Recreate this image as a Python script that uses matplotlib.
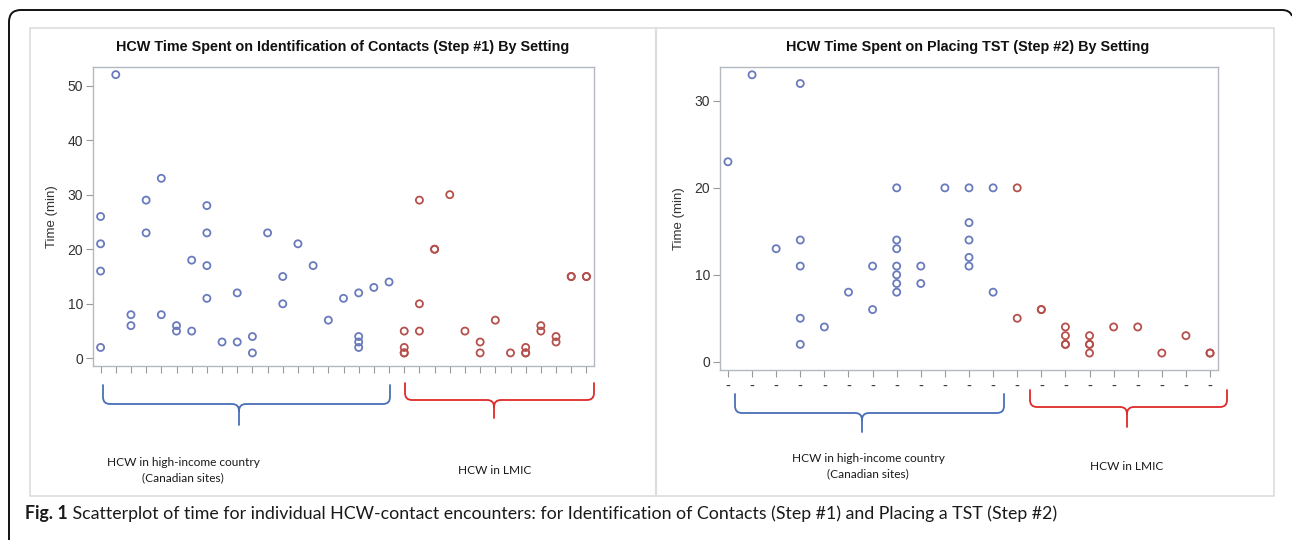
import numpy as np
import matplotlib
matplotlib.use("Agg")
import matplotlib.pyplot as plt
from matplotlib.path import Path
from matplotlib.patches import PathPatch, Rectangle

W, H = 1292, 540

# --- datos: tiempo (min) por categoría ---
# Paso 1: identificación de contactos (20 categorías Canadá + 13 LMIC)
step1_hic = [[26, 21, 16, 2], [52], [8, 6], [29, 23], [33, 8], [6, 5], [18, 5],
             [28, 23, 17, 11], [3], [12, 3], [4, 1], [23], [15, 10], [21], [17],
             [7], [11], [12, 4, 3, 2], [13], [14]]
step1_lmic = [[5, 2, 1, 1], [29, 10, 5], [20, 20], [30], [5], [3, 1], [7], [1],
              [2, 1, 1], [6, 5], [4, 3], [15, 15], [15, 15]]
# Paso 2: colocación de TST (12 categorías Canadá + 9 LMIC)
step2_hic = [[23], [33], [13], [32, 14, 11, 5, 2], [4], [8], [11, 6],
             [20, 14, 13, 11, 10, 9, 8], [11, 9], [20], [20, 16, 14, 12, 11], [20, 8]]
step2_lmic = [[20, 5], [6, 6], [4, 3, 2, 2], [3, 2, 2, 1], [4], [4], [1], [3], [1, 1]]

step1_yticks = [0, 10, 20, 30, 40, 50]
step2_yticks = [0, 10, 20, 30]

title1 = "HCW Time Spent on Identification of Contacts (Step #1) By Setting"
title2 = "HCW Time Spent on Placing TST (Step #2) By Setting"
label_hic = "HCW in high-income country\n(Canadian sites)"
label_lmic = "HCW in LMIC"
caption_bold = "Fig. 1"
caption_rest = (" Scatterplot of time for individual HCW-contact encounters: for "
                "Identification of Contacts (Step #1) and Placing a TST (Step #2)")

BLUE_PT = "#6a7bbd"
RED_PT = "#b5504c"
BLUE_BR = "#4a6fb8"
RED_BR = "#de2a2a"
FRAME = "#b4b8bf"

fig = plt.figure(figsize=(W / 100, H / 100), dpi=100)

# capa de fondo en coordenadas de píxel
ov = fig.add_axes([0, 0, 1, 1])
ov.set_xlim(0, W)
ov.set_ylim(H, 0)
ov.axis("off")


def px_axes(x0, y0, x1, y1):
    return fig.add_axes([x0 / W, 1 - y1 / H, (x1 - x0) / W, (y1 - y0) / H])


def flatten(groups, start):
    xs, ys = [], []
    for i, g in enumerate(groups):
        xs += [start + i] * len(g)
        ys += g
    return np.array(xs), np.array(ys)


def scatter_panel(ax, hic, lmic, yticks, ylim, dash_labels):
    xb, yb = flatten(hic, 0)
    xr, yr = flatten(lmic, len(hic))
    n = len(hic) + len(lmic)
    ax.scatter(xb, yb, s=26, facecolors="none", edgecolors=BLUE_PT, linewidths=1.3, zorder=3)
    ax.scatter(xr, yr, s=26, facecolors="none", edgecolors=RED_PT, linewidths=1.3, zorder=3)
    if dash_labels:
        ax.set_xlim(-0.33, n - 0.67)
    else:
        ax.set_xlim(-0.5, n - 0.5)
    ax.set_ylim(*ylim)
    ax.set_xticks(range(n))
    if dash_labels:
        ax.set_xticklabels(["-"] * n, fontsize=3.5, color="#aaaaaa")
    else:
        ax.set_xticklabels([])
    ax.set_yticks(yticks)
    ax.tick_params(axis="both", direction="out", length=5, width=0.8, color="#9a9a9a",
                   labelsize=10, labelcolor="#333333", pad=2)
    for sp in ax.spines.values():
        sp.set_color(FRAME)
        sp.set_linewidth(1.0)
    ax.set_ylabel("Time (min)", fontsize=9.5, color="#333333", labelpad=7)
    for lab in ax.get_yticklabels():
        lab.set_fontfamily("Liberation Sans")
    ax.yaxis.label.set_fontfamily("Liberation Sans")


ax1 = px_axes(93, 67, 594, 366)
scatter_panel(ax1, step1_hic, step1_lmic, step1_yticks, (-1.4, 53.4), False)
ax2 = px_axes(720, 67, 1218, 370)
scatter_panel(ax2, step2_hic, step2_lmic, step2_yticks, (-0.95, 33.9), True)

# títulos
ov.text(343, 47, title1, ha="center", va="center", fontsize=10.4, fontweight="bold",
        family="Liberation Sans", color="#111111")
ov.text(968, 47, title2, ha="center", va="center", fontsize=10.4, fontweight="bold",
        family="Liberation Sans", color="#111111")

# marcos de los paneles
ov.add_patch(Rectangle((30, 28), 1244, 468, fill=False, edgecolor="#dddddd", linewidth=1.2))
ov.plot([656, 656], [28, 496], color="#dddddd", linewidth=1.6)

# borde exterior redondeado
border = Path([(9, H + 2), (9, 22), (9, 10), (21, 10), (1282, 10), (1290, 10), (1292, 16)],
              [Path.MOVETO, Path.LINETO, Path.CURVE3, Path.CURVE3, Path.LINETO,
               Path.CURVE3, Path.CURVE3])
ov.add_patch(PathPatch(border, fill=False, edgecolor="#111111", linewidth=1.4))


def brace(x0, x1, ytop, ymid, ytip, xm, color):
    r = 7
    verts = [(x0, ytop), (x0, ymid - r), (x0, ymid), (x0 + r, ymid),
             (xm - r, ymid), (xm, ymid), (xm, ymid + r), (xm, ytip),
             (x1, ytop), (x1, ymid - r), (x1, ymid), (x1 - r, ymid),
             (xm + r, ymid), (xm, ymid), (xm, ymid + r)]
    codes = [Path.MOVETO, Path.LINETO, Path.CURVE3, Path.CURVE3,
             Path.LINETO, Path.CURVE3, Path.CURVE3, Path.LINETO,
             Path.MOVETO, Path.LINETO, Path.CURVE3, Path.CURVE3,
             Path.LINETO, Path.CURVE3, Path.CURVE3]
    ov.add_patch(PathPatch(Path(verts, codes), fill=False, edgecolor=color,
                           linewidth=1.3, capstyle="round"))


brace(103, 390, 385, 404, 425, 239, BLUE_BR)
brace(405, 594, 383, 400, 418, 494, RED_BR)
brace(735, 1004, 394, 413, 432, 862, BLUE_BR)
brace(1030, 1227, 390, 407, 427, 1127, RED_BR)

lab_kw = dict(ha="center", va="center", fontsize=8.6, family="Lato",
              color="#1a1a1a", linespacing=1.45)
ov.text(183, 470, label_hic, **lab_kw)
ov.text(495, 470, label_lmic, **lab_kw)
ov.text(868, 466, label_hic, **lab_kw)
ov.text(1127, 466, label_lmic, **lab_kw)

# leyenda de la figura
cap = ov.text(25, 514, caption_bold, ha="left", va="center", fontsize=12.8,
              fontweight="bold", family="Lato", color="#1a1a1a")
ov.annotate(caption_rest, xy=(1, 0.5), xycoords=cap, ha="left", va="center",
            fontsize=12.8, family="Lato", color="#1a1a1a")

fig.savefig("out.png", dpi=100)
